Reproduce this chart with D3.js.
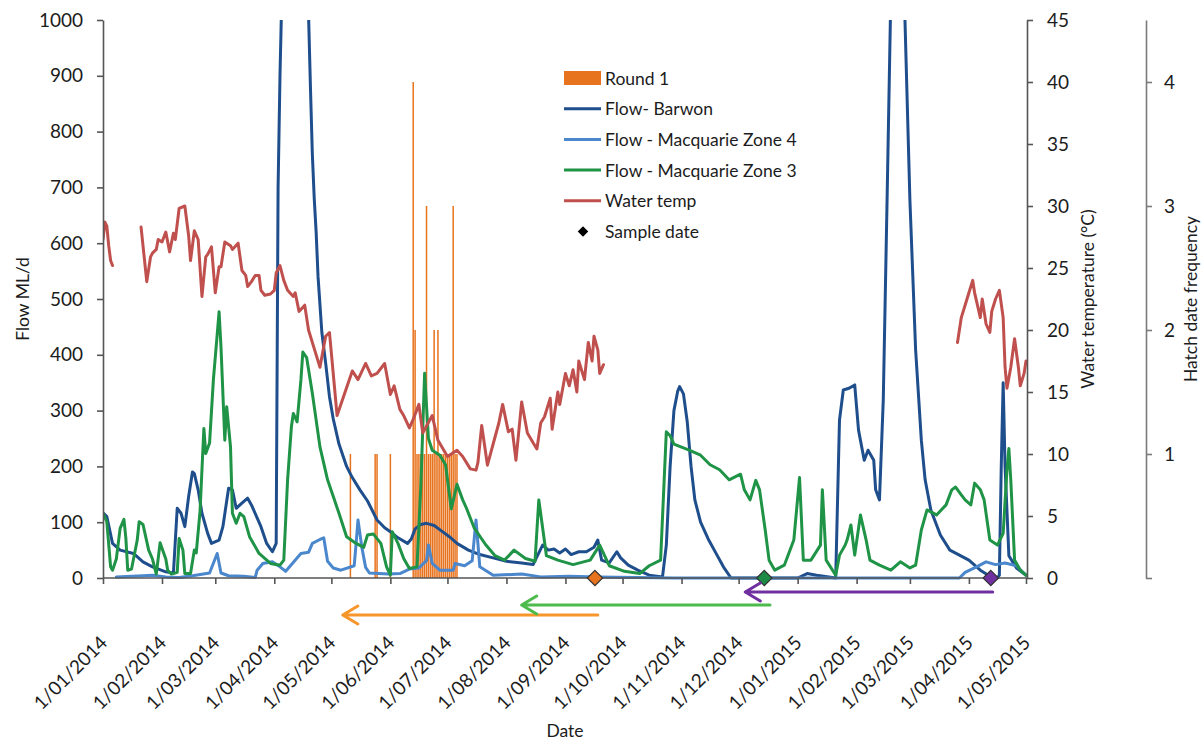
<!DOCTYPE html>
<html>
<head>
<meta charset="utf-8">
<script src="https://cdn.jsdelivr.net/npm/d3@7"></script>
<style>
  body { margin: 0; background: #fff; }
  svg { display: block; }
  text { font-family: Lato, "Open Sans", sans-serif; fill: #1c1c1c; }
</style>
</head>
<body>
<svg id="chart" width="1202" height="740"></svg>
<script>
// Day numbers are counted from 1 January 2014 (day 0).
const monthTickDates = ["2014-01-01","2014-02-01","2014-03-01","2014-04-01","2014-05-01","2014-06-01",
  "2014-07-01","2014-08-01","2014-09-01","2014-10-01","2014-11-01","2014-12-01",
  "2015-01-01","2015-02-01","2015-03-01","2015-04-01","2015-05-01"];

// Hatch dates (Round 1): day number and number of larvae hatched that day
const hatchDays   = [130, 143, 144, 151, 163, 164, 165, 166, 167, 168, 169, 170, 171, 172, 173, 174, 175, 176, 177, 178, 179, 180, 181, 182, 183, 184, 185, 186];
const hatchCounts = [1,   1,   1,   1,   4,   2,   1,   1,   1,   1,   1,   3,   1,   1,   1,   2,   1,   2,   1,   1,   1,   1,   1,   1,   1,   3,   1,   1];

// Flow, Barwon (ML/d)
const barwonFlow = [[0,117],[2,110],[5,62],[9,50],[16,44],[21,29],[26,20],[33,11],[37,9],[39,125],[41,116],[43,92],[45,146],[47,190],[48,187],[50,158],[52,116],[55,80],[57,62],[61,68],[63,92],[66,161],[68,158],[70,125],[73,134],[76,143],[78,131],[83,92],[86,62],[89,47],[91,62],[92,700],[93,900],[94,1050],[97,1600],[101,1900],[105,1500],[108,1010],[109,880],[110,760],[111,680],[112,620],[113,540],[114,490],[115,440],[117,385],[119,325],[121,285],[124,240],[128,200],[131,180],[135,158],[139,138],[144,104],[148,90],[151,83],[155,72],[160,62],[162,70],[164,88],[167,96],[170,98],[174,94],[178,84],[182,74],[186,62],[192,50],[198,42],[205,36],[212,30],[220,27],[226,24],[231,59],[234,50],[237,52],[240,45],[243,52],[246,42],[250,47],[254,47],[258,55],[260,68],[262,32],[266,27],[270,47],[272,36],[276,23],[281,14],[287,5],[294,2],[296,59],[298,200],[300,300],[302,335],[303,343],[305,330],[307,280],[309,200],[311,140],[314,100],[318,70],[322,45],[326,20],[330,0],[365,0],[370,8],[375,5],[385,0],[387,283],[389,337],[392,340],[395,346],[397,265],[400,211],[402,229],[405,211],[406,158],[408,140],[410,319],[412,677],[414,1050],[418,1500],[421,1050],[424,677],[427,409],[430,247],[432,176],[435,122],[440,77],[445,50],[450,41],[455,32],[461,14],[466,3],[470,0],[471,5],[472,200],[473,350],[474,200],[476,40],[480,18],[485,5]];

// Flow, Macquarie Zone 4 (ML/d)
const zone4Flow = [[7,2],[15,3],[21,4],[26,5],[33,2],[40,1],[47,4],[56,9],[60,44],[62,9],[66,4],[74,3],[80,1],[81,14],[84,26],[89,29],[93,20],[96,12],[104,44],[108,46],[110,62],[114,69],[116,72],[118,30],[121,18],[125,14],[132,22],[133,62],[134,104],[136,55],[138,19],[140,9],[150,7],[156,8],[161,16],[166,18],[170,31],[171,59],[173,26],[177,14],[184,14],[185,26],[190,22],[194,31],[196,104],[198,20],[205,5],[220,7],[230,2],[245,3],[260,2],[300,0],[450,0],[453,10],[459,20],[464,29],[469,24],[474,27],[480,22],[485,5]];

// Flow, Macquarie Zone 3 (ML/d)
const zone3Flow = [[0,116],[2,101],[4,20],[5,14],[7,34],[9,89],[11,105],[12,72],[13,14],[15,16],[18,68],[19,101],[21,96],[24,50],[26,34],[28,7],[30,63],[33,34],[34,14],[36,7],[39,10],[40,71],[42,50],[43,8],[46,8],[48,50],[49,45],[51,120],[53,268],[54,223],[56,242],[58,355],[61,477],[62,414],[64,247],[65,307],[67,235],[68,116],[70,98],[72,116],[74,110],[77,74],[82,44],[88,26],[93,23],[95,32],[97,176],[99,271],[100,295],[102,280],[104,355],[105,405],[107,395],[110,331],[114,235],[118,176],[121,146],[124,116],[128,74],[133,62],[137,55],[139,77],[142,79],[146,62],[149,20],[151,5],[152,83],[155,62],[158,35],[161,17],[165,20],[167,164],[169,367],[171,250],[173,229],[177,220],[180,203],[183,124],[186,168],[189,140],[191,125],[195,90],[201,60],[206,40],[211,32],[216,50],[222,35],[227,30],[229,140],[233,40],[239,32],[247,24],[256,32],[261,59],[266,22],[274,12],[282,8],[287,22],[293,32],[296,262],[298,255],[300,240],[303,236],[308,229],[314,220],[319,203],[324,194],[329,176],[335,186],[337,158],[340,140],[343,175],[345,158],[348,85],[350,32],[353,14],[358,23],[363,68],[366,180],[368,32],[372,32],[377,59],[378,158],[380,32],[385,5],[387,41],[390,59],[391,68],[393,95],[395,41],[398,113],[401,68],[403,32],[408,23],[414,14],[419,29],[424,18],[427,23],[430,86],[433,122],[438,113],[443,131],[446,158],[448,163],[451,149],[453,140],[456,131],[458,170],[461,158],[463,140],[466,68],[470,59],[473,80],[475,194],[476,232],[477,176],[479,32],[482,14],[485,5]];

// Water temperature (°C); null marks gaps in the logger record
const waterTemp = [[0,27.3],[1,28.7],[2,28.4],[3,26.8],[4,25.6],[5,25.2],[6,null],
  [20,28.3],[23,23.9],[25,25.9],[26,26.2],[28,26.5],[29,27.3],[31,27.1],[33,27.9],[35,26.3],[37,27.8],[38,27.3],[40,29.8],[43,30],[45,27.6],[46,25.6],[48,28],[50,27.3],[52,22.7],[54,25.9],[55,26.1],[57,26.7],[59,23],[61,25.1],[62,25.1],[64,27.1],[67,26.8],[68,26.5],[71,27],[73,24.8],[75,24.4],[76,23.5],[78,23.9],[80,24.4],[82,24.4],[83,23.2],[85,22.8],[88,22.9],[90,23.2],[91,24.6],[93,25.2],[95,24],[97,23.2],[100,22.7],[101,23],[103,21.5],[106,22],[108,20],[111,18.5],[114,17],[117,19.5],[119,19.8],[123,13.1],[131,16.7],[134,16],[138,17.3],[141,16.3],[144,16.5],[148,17.3],[151,14.8],[153,15.5],[156,13.6],[158,13.1],[161,12.1],[163,12.8],[166,14],[168,11.7],[173,13.1],[176,11.1],[181,9.8],[186,10.3],[189,9.8],[193,8.8],[196,8.7],[197,9.3],[199,12.3],[202,9.1],[208,12.5],[210,14],[213,11.8],[215,12],[217,9.5],[220,14.2],[223,11.7],[226,10.9],[228,10.4],[230,12.5],[232,13],[235,14.5],[236,12],[239,15],[240,14],[243,16.5],[245,15.5],[247,16.8],[249,15],[250,17.5],[253,16],[255,19],[257,17.5],[258,19.5],[260,18.4],[261,16.5],[263,17.2],[264,null],
  [449,19],[451,21],[453,22],[455,23],[457,24],[458,23],[461,21],[462,22.5],[464,20.5],[466,19.8],[467,21.5],[469,22.5],[471,23.2],[473,21],[474,17],[475,15.3],[477,17],[479,19.3],[481,17],[482,15.5],[484,16.5],[485,17.5]];

// Sample dates and the back-calculated hatch windows (arrows)
const sampleDays   = [258.5, 347.5, 466.5];
const sampleColors = ["#e8731e", "#1d8a45", "#7030a0"];
const windowStart  = [260, 350.5, 467.5];
const windowEnd    = [126, 220, 337.5];
const arrowColors  = ["#f7962a", "#4cbb4c", "#7030a0"];

const legendItems = ["Round 1", "Flow- Barwon", "Flow - Macquarie Zone 4", "Flow - Macquarie Zone 3", "Water temp", "Sample date"];

const colors = { bars: "#e8731e", barwon: "#1f4e8c", zone4: "#4a87cc", zone3: "#1f9346", temp: "#c0504d" };

const svg = d3.select("#chart");
const day0 = new Date(2014, 0, 1);
const toDate = d => d3.timeDay.offset(day0, Math.floor(d)).getTime() + (d % 1) * 864e5;

const x = d3.scaleTime().domain([day0, new Date(2015, 4, 1)]).range([103, 1026]);
const yFlow = d3.scaleLinear().domain([0, 1000]).range([578, 20]);
const yTemp = d3.scaleLinear().domain([0, 45]).range([578, 20]);
const yHatch = d3.scaleLinear().domain([0, 4.5]).range([578, 20]);

svg.append("defs").append("clipPath").attr("id", "plot")
  .append("rect").attr("x", 103).attr("y", 20).attr("width", 925).attr("height", 560);

const plot = svg.append("g").attr("clip-path", "url(#plot)");

// hatch-date bars
plot.append("g").selectAll("rect").data(hatchDays.map((d, i) => [d, hatchCounts[i]]))
  .join("rect")
  .attr("x", d => x(toDate(d[0])) - 0.75)
  .attr("width", 1.5)
  .attr("y", d => yHatch(d[1]))
  .attr("height", d => yHatch(0) - yHatch(d[1]))
  .attr("fill", colors.bars);

const flowLine = d3.line().x(d => x(toDate(d[0]))).y(d => yFlow(d[1])).curve(d3.curveLinear);
const tempLine = d3.line().defined(d => d[1] != null).x(d => x(toDate(d[0]))).y(d => yTemp(d[1]));

const lineStyle = (p, c) => p.attr("fill", "none").attr("stroke", c).attr("stroke-width", 3)
  .attr("stroke-linejoin", "round").attr("stroke-linecap", "round");

plot.append("path").datum(barwonFlow).attr("d", flowLine).call(lineStyle, colors.barwon);
plot.append("path").datum(zone4Flow).attr("d", flowLine).call(lineStyle, colors.zone4);
plot.append("path").datum(zone3Flow).attr("d", flowLine).call(lineStyle, colors.zone3);
plot.append("path").datum(waterTemp).attr("d", tempLine).call(lineStyle, colors.temp);

// axes
const axisStyle = g => {
  g.selectAll(".domain").attr("stroke", "#555").attr("stroke-width", 1.6);
  g.selectAll(".tick line").attr("stroke", "#555").attr("stroke-width", 1.6);
  g.selectAll("text").attr("font-size", 19).attr("fill", "#1c1c1c").attr("font-family", "Lato, sans-serif");
};

svg.append("g").attr("transform", "translate(103,0)")
  .call(d3.axisLeft(yFlow).tickValues(d3.range(0, 1001, 100)).tickFormat(d3.format("d"))
    .tickSize(6).tickSizeOuter(0).tickPadding(14))
  .call(axisStyle);

svg.append("g").attr("transform", "translate(1027,0)")
  .call(d3.axisRight(yTemp).tickValues(d3.range(0, 46, 5)).tickSize(6).tickSizeOuter(0).tickPadding(14))
  .call(axisStyle);

svg.append("g").attr("transform", "translate(1146,0)")
  .call(d3.axisRight(yHatch).tickValues([0, 1, 2, 3, 4]).tickFormat(d => d === 0 ? "" : d)
    .tickSize(6).tickSizeOuter(0).tickPadding(12))
  .call(axisStyle)
  .call(g => g.selectAll(".domain, .tick line").attr("stroke", "#7a7a7a"));

const fmt = d3.timeFormat("%-d/%m/%Y");
const xAxis = svg.append("g").attr("transform", "translate(0,578)")
  .call(d3.axisBottom(x).tickValues(monthTickDates.map(s => d3.timeParse("%Y-%m-%d")(s)))
    .tickFormat(fmt).tickSize(6).tickSizeOuter(0))
  .call(axisStyle);
xAxis.selectAll(".domain").attr("d", "M103,0H1027");
xAxis.selectAll(".tick text")
  .attr("text-anchor", "end").attr("x", 0).attr("y", 0).attr("dy", 0)
  .attr("transform", "translate(5,66) rotate(-45)");

// sample-date diamonds
const diamond = d3.symbol().type(d3.symbolDiamond2).size(150);
svg.append("g").selectAll("path").data(sampleDays).join("path")
  .attr("d", diamond)
  .attr("transform", d => `translate(${x(toDate(d))},578)`)
  .attr("fill", (d, i) => sampleColors[i])
  .attr("stroke", "#333").attr("stroke-width", 1.2);

// hatch-window arrows below the axis
const arrowY = [615, 605, 592];
const arrows = svg.append("g").attr("fill", "none").attr("stroke-width", 3).attr("stroke-linecap", "round").attr("stroke-linejoin", "round");
windowStart.forEach((s, i) => {
  const x0 = x(toDate(s)), x1 = x(toDate(windowEnd[i])), y = arrowY[i];
  arrows.append("path").attr("d", `M${x0},${y}H${x1}M${x1 + 15},${y - 9}L${x1},${y}L${x1 + 15},${y + 9}`)
    .attr("stroke", arrowColors[i]);
});

// axis titles
const titleSize = 17.5;
svg.append("text").attr("transform", "translate(29,299) rotate(-90)").attr("text-anchor", "middle")
  .attr("font-size", titleSize).text("Flow ML/d");
svg.append("text").attr("transform", "translate(1094,299) rotate(-90)").attr("text-anchor", "middle")
  .attr("font-size", titleSize).text("Water temperature (°C)");
svg.append("text").attr("transform", "translate(1197,299) rotate(-90)").attr("text-anchor", "middle")
  .attr("font-size", titleSize).text("Hatch date frequency");
svg.append("text").attr("x", 565).attr("y", 737).attr("text-anchor", "middle")
  .attr("font-size", titleSize).text("Date");

// legend
const legend = svg.append("g").attr("transform", "translate(564,78)");
legendItems.forEach((name, i) => {
  const g = legend.append("g").attr("transform", `translate(0,${i * 30.7})`);
  if (i === 0) {
    g.append("rect").attr("x", 0).attr("y", -7).attr("width", 37).attr("height", 14).attr("fill", colors.bars);
  } else if (i === 5) {
    g.append("path").attr("d", d3.symbol().type(d3.symbolDiamond2).size(70)).attr("transform", "translate(19,0)").attr("fill", "#000");
  } else {
    const c = [null, colors.barwon, colors.zone4, colors.zone3, colors.temp][i];
    g.append("line").attr("x1", 0).attr("x2", 37).attr("stroke", c).attr("stroke-width", 3);
  }
  g.append("text").attr("x", 41).attr("y", 6.5).attr("font-size", titleSize).text(name);
});
</script>
</body>
</html>
